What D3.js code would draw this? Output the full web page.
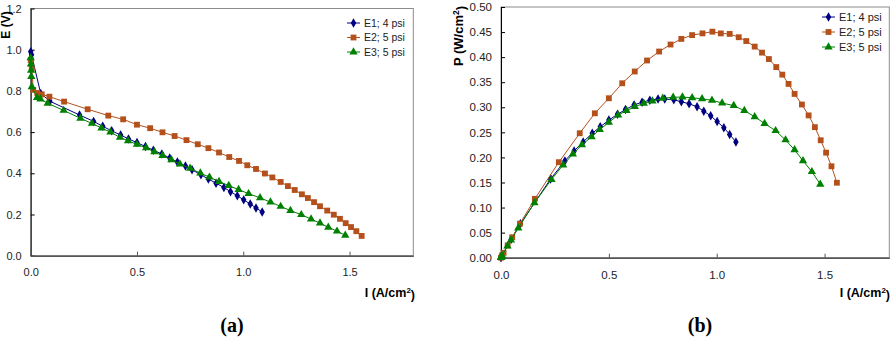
<!DOCTYPE html>
<html>
<head>
<meta charset="utf-8">
<script src="https://cdn.jsdelivr.net/npm/d3@7"></script>
<style>
  body { margin: 0; background: #fff; }
  svg { display: block; font-family: Arial, "Liberation Sans", sans-serif; }
</style>
</head>
<body>
<svg id="fig" width="896" height="344"></svg>
<script>
// series names and tick values
var seriesNames = ["E1; 4 psi", "E2; 5 psi", "E3; 5 psi"];
var xTicks = [0, 0.5, 1.0, 1.5];
var eTicks = [0, 0.2, 0.4, 0.6, 0.8, 1.0, 1.2];
var pTicks = [0, 0.05, 0.10, 0.15, 0.20, 0.25, 0.30, 0.35, 0.40, 0.45, 0.50];

// E1; 4 psi
var I1 = [0, 0.004, 0.047, 0.09, 0.23, 0.296, 0.339, 0.381, 0.423, 0.46, 0.50, 0.54, 0.577, 0.617, 0.654,
	0.690, 0.728, 0.759, 0.801, 0.836, 0.872, 0.909, 0.940, 0.972, 1.002, 1.033, 1.060, 1.089];
var E1 = [0.99, 0.975, 0.788, 0.75, 0.683, 0.652, 0.628, 0.606, 0.586, 0.567, 0.549, 0.53, 0.512, 0.494, 0.474,
	0.455, 0.435, 0.417, 0.393, 0.372, 0.352, 0.331, 0.311, 0.291, 0.271, 0.251, 0.232, 0.212];
var P1 = [0, 0.0039, 0.037, 0.0675, 0.157, 0.193, 0.213, 0.231, 0.248, 0.261, 0.2745, 0.286, 0.2954, 0.3048, 0.310,
	0.314, 0.3167, 0.3165, 0.3148, 0.311, 0.307, 0.301, 0.2923, 0.2829, 0.2715, 0.2593, 0.2459, 0.2309];

// E2; 5 psi
var I2 = [0, 0.005, 0.012, 0.031, 0.052, 0.088, 0.157, 0.268, 0.365, 0.435, 0.500, 0.562, 0.620, 0.677, 0.733,
	0.786, 0.836, 0.886, 0.934, 0.980, 1.019, 1.060, 1.102, 1.137, 1.176, 1.210, 1.242, 1.276, 1.304, 1.333,
	1.361, 1.395, 1.426, 1.455, 1.482, 1.507, 1.532, 1.557];
var E2 = [0.95, 0.91, 0.805, 0.79, 0.783, 0.772, 0.748, 0.711, 0.680, 0.662, 0.636, 0.619, 0.599, 0.581, 0.561,
	0.541, 0.522, 0.501, 0.479, 0.460, 0.439, 0.421, 0.399, 0.380, 0.358, 0.338, 0.319, 0.298, 0.280, 0.260,
	0.240, 0.219, 0.199, 0.179, 0.158, 0.139, 0.119, 0.096];
var P2 = [0, 0.0046, 0.0097, 0.0245, 0.0407, 0.0679, 0.1174, 0.1905, 0.2482, 0.2880, 0.3180, 0.3479, 0.3714, 0.3933, 0.4112,
	0.4252, 0.4364, 0.4439, 0.4474, 0.4508, 0.4473, 0.4463, 0.4397, 0.4321, 0.4210, 0.4090, 0.3962, 0.3802, 0.3651, 0.3466,
	0.3266, 0.3055, 0.2838, 0.2604, 0.2342, 0.2095, 0.1823, 0.1495];

// E3; 5 psi
var I3 = [0, 0.001, 0.002, 0.003, 0.005, 0.03, 0.046, 0.08, 0.155, 0.234, 0.288, 0.333, 0.375, 0.42, 0.458,
	0.50, 0.543, 0.582, 0.62, 0.662, 0.702, 0.75, 0.798, 0.841, 0.886, 0.932, 0.978, 1.025, 1.079, 1.128,
	1.176, 1.222, 1.273, 1.319, 1.361, 1.40, 1.441, 1.48];
var E3 = [0.96, 0.93, 0.90, 0.87, 0.82, 0.768, 0.76, 0.74, 0.705, 0.667, 0.642, 0.620, 0.600, 0.574, 0.558,
	0.540, 0.524, 0.504, 0.486, 0.465, 0.445, 0.424, 0.401, 0.381, 0.360, 0.340, 0.321, 0.301, 0.281, 0.260,
	0.239, 0.219, 0.199, 0.178, 0.158, 0.138, 0.119, 0.099];
var P3 = [0, 0.0009, 0.0018, 0.0026, 0.0041, 0.023, 0.035, 0.0592, 0.1093, 0.156, 0.1849, 0.2065, 0.225, 0.2411, 0.2556,
	0.270, 0.2845, 0.2933, 0.3013, 0.3078, 0.3124, 0.318, 0.320, 0.3204, 0.319, 0.3169, 0.3139, 0.3085, 0.3032, 0.2933,
	0.2811, 0.2676, 0.2533, 0.2348, 0.215, 0.1932, 0.1715, 0.1465];

var colors = ["#000080", "#B3501C", "#008000"];
var symbols = [d3.symbolDiamond, d3.symbolSquare, d3.symbolTriangle];
var symSizes = [26, 34, 30];

var svg = d3.select("#fig");

drawPanel({
	left: 30.7, right: 413.3, top: 8.5, bottom: 255.7,
	yMax: 1.2, yTicks: eTicks, yFmt: d3.format(".1f"),
	ys: [E1, E2, E3], fs: 11, fsLeg: 10.5, legX: 347, legY: 23, legDy: 14.5,
	yLabel: "E (V)", yLabelX: 9.5, yLabelY: 25, yLabelFs: 12,
	xLabelX: 415, caption: "(a)", capX: 232
});

drawPanel({
	left: 501, right: 889.3, top: 7, bottom: 257.7,
	yMax: 0.5, yTicks: pTicks, yFmt: d3.format(".2f"),
	ys: [P1, P2, P3], fs: 11.5, fsLeg: 11, legX: 822, legY: 17, legDy: 15,
	yLabel: "P (W/cm", yLabelX: 463, yLabelY: 36, yLabelFs: 13,
	xLabelX: 890, caption: "(b)", capX: 700
});

function drawPanel(o) {
	var xs = [I1, I2, I3];

	var x = d3.scaleLinear().domain([0, 1.8]).range([o.left, o.right]);
	var y = d3.scaleLinear().domain([0, o.yMax]).range([o.bottom, o.top]);

	var g = svg.append("g");

	// plot area border (top / right)
	g.append("rect")
		.attr("x", o.left).attr("y", o.top)
		.attr("width", o.right - o.left).attr("height", o.bottom - o.top)
		.attr("fill", "none").attr("stroke", "#8c8c8c").attr("stroke-width", 1);

	var yAxis = g.append("g")
		.attr("transform", "translate(" + o.left + ",0)")
		.call(d3.axisLeft(y).tickValues(o.yTicks).tickFormat(o.yFmt)
			.tickSize(-4).tickSizeOuter(0).tickPadding(9));
	yAxis.select(".domain").attr("stroke", "#000");
	yAxis.selectAll("text").attr("font-size", o.fs).attr("fill", "#222").attr("font-family", null);

	var xAxis = g.append("g")
		.attr("transform", "translate(0," + o.bottom + ")")
		.call(d3.axisBottom(x).tickValues(xTicks).tickFormat(d3.format(".1f"))
			.tickSize(-4).tickSizeOuter(0).tickPadding(13));
	xAxis.select(".domain").attr("stroke", "#555").attr("stroke-width", 1.6);
	xAxis.selectAll("text").attr("font-size", o.fs).attr("fill", "#222").attr("font-family", null);
	xAxis.selectAll(".tick line").attr("stroke", "#555");

	var line = d3.line().x(function(d) { return x(d[0]); }).y(function(d) { return y(d[1]); });

	// series, drawn in order E1, E2, E3
	[0, 1, 2].forEach(function(k) {
		var pts = xs[k].map(function(v, i) { return [v, o.ys[k][i]]; });
		g.append("path")
			.datum(pts)
			.attr("d", line)
			.attr("fill", "none")
			.attr("stroke", colors[k])
			.attr("stroke-width", 1);
		g.append("g").selectAll("path")
			.data(pts)
			.enter().append("path")
			.attr("d", d3.symbol().type(symbols[k]).size(symSizes[k]))
			.attr("transform", function(d) { return "translate(" + x(d[0]) + "," + y(d[1]) + ")"; })
			.attr("fill", colors[k]);
	});

	// legend
	var leg = g.append("g");
	seriesNames.forEach(function(name, k) {
		var ly = o.legY + k * o.legDy;
		leg.append("line")
			.attr("x1", o.legX).attr("x2", o.legX + 13)
			.attr("y1", ly).attr("y2", ly)
			.attr("stroke", colors[k]).attr("stroke-width", 1);
		leg.append("path")
			.attr("d", d3.symbol().type(symbols[k]).size(symSizes[k]))
			.attr("transform", "translate(" + (o.legX + 6.5) + "," + ly + ")")
			.attr("fill", colors[k]);
		leg.append("text")
			.attr("x", o.legX + 17).attr("y", ly)
			.attr("dy", "0.35em")
			.attr("font-size", o.fsLeg)
			.attr("fill", "#222")
			.text(name);
	});

	// x axis title, right aligned under the plot
	var xt = g.append("text")
		.attr("x", o.xLabelX).attr("y", 297)
		.attr("text-anchor", "end")
		.attr("font-size", 12.5).attr("font-weight", "bold")
		.attr("fill", "#000");
	xt.append("tspan").text("I (A/cm");
	xt.append("tspan").attr("dy", "-0.45em").attr("font-size", 8).text("2");
	xt.append("tspan").attr("dy", "0.45em").text(")");

	// y axis title, rotated
	var yt = g.append("text")
		.attr("transform", "translate(" + o.yLabelX + "," + o.yLabelY + ") rotate(-90)")
		.attr("text-anchor", "middle")
		.attr("font-size", o.yLabelFs).attr("font-weight", "bold")
		.attr("fill", "#000");
	if (o.yLabel === "E (V)") {
		yt.text(o.yLabel);
	} else {
		yt.append("tspan").text(o.yLabel);
		yt.append("tspan").attr("dy", "-0.45em").attr("font-size", 8.5).text("2");
		yt.append("tspan").attr("dy", "0.45em").text(")");
	}

	// panel caption
	g.append("text")
		.attr("x", o.capX).attr("y", 332)
		.attr("text-anchor", "middle")
		.attr("font-family", "'Liberation Serif', 'Times New Roman', serif")
		.attr("font-size", 20).attr("font-weight", "bold")
		.attr("fill", "#000")
		.text(o.caption);
}
</script>
</body>
</html>
